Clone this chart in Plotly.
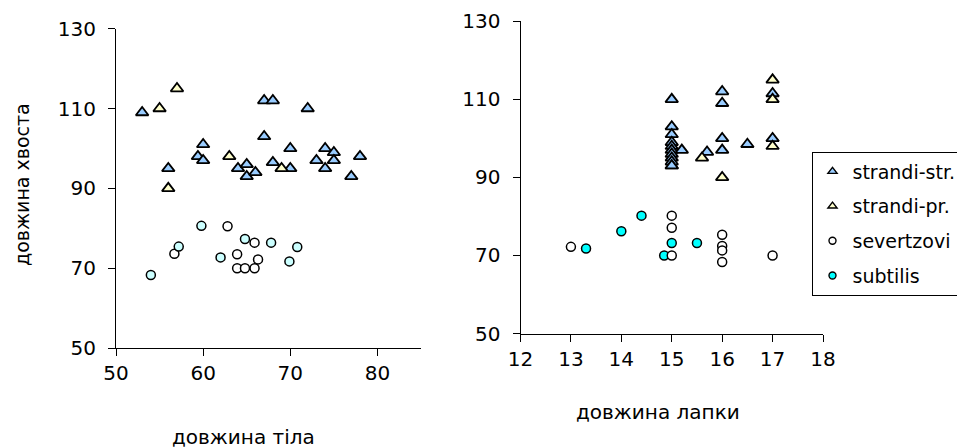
import plotly.graph_objects as go

# ---------------- data ----------------
species = ["strandi-str.", "strandi-pr.", "severtzovi", "subtilis"]

# left panel: body length (x) vs tail length (y)
str_body = [53, 56, 59.4, 60, 60, 64, 65, 65, 66, 67, 68, 67, 68, 70, 70, 72, 73, 74, 74, 75, 75, 77, 78]
str_tail_l = [109, 95, 98, 101, 97, 95, 96, 93, 94, 112, 112, 103, 96.5, 100, 95, 110, 97, 100, 95, 99, 97, 93, 98]
pr_body = [55, 57, 56, 63, 69]
pr_tail_l = [110, 115, 90, 98, 95]
sev_body = [56.7, 62.8, 63.9, 63.9, 64.8, 65.9, 65.9, 66.3]
sev_tail_l = [73.6, 80.5, 73.5, 70, 70, 70, 76.4, 72.2]
sub_body = [54, 57.2, 59.8, 62, 64.8, 67.8, 69.9, 70.8]
sub_tail_l = [68.3, 75.4, 80.6, 72.7, 77.3, 76.4, 71.7, 75.3]

# right panel: foot length (x) vs tail length (y)
str_foot = [15, 15, 15, 15, 15, 15, 15, 15, 15, 15, 15, 15.2, 15.7, 16, 16, 16, 16, 16.5, 17, 17]
str_tail_r = [110, 103, 101, 99, 98, 97, 96, 95, 94, 93, 93, 97, 96.5, 112, 109, 100, 97, 98.5, 111.5, 100]
pr_foot = [17, 17, 16, 17, 15.6]
pr_tail_r = [115, 110, 90, 98, 95]
sev_foot = [13, 15, 15, 15, 16, 16, 16, 16, 17]
sev_tail_r = [72.2, 80.2, 77.1, 70, 75.3, 72.4, 71.3, 68.3, 70]
sub_foot = [13.3, 14, 14.4, 14.85, 15, 15.5]
sub_tail_r = [71.8, 76.2, 80.2, 70, 73.2, 73.2]

left_xticks = [50, 60, 70, 80]
right_xticks = [12, 13, 14, 15, 16, 17, 18]
yticks = [50, 70, 90, 110, 130]

# ---------------- styles ----------------
C_STR = "#99CCFF"
C_PR = "#FFFFCC"
C_SEV = "#FFFFFF"
C_SUB_L = "#CCFFFF"
C_SUB_R = "#00FFFF"
FONT = "DejaVu Sans"
# page body has an 8px margin; figure is sized so that it fills the 965x448 window
OFF = 8
W, H = 965 - OFF, 448 - OFF

def px(sx):
    return (sx - OFF) / W

def py(sy):
    return (448 - sy) / H

def tri(color):
    return dict(symbol="triangle-up", size=11, color=color, line=dict(color="black", width=1.8))

def circ(color):
    return dict(symbol="circle", size=9, color=color, line=dict(color="black", width=1.5))

fig = go.Figure()

# left panel
fig.add_trace(go.Scatter(x=str_body, y=str_tail_l, mode="markers", marker=tri(C_STR), showlegend=False, xaxis="x", yaxis="y"))
fig.add_trace(go.Scatter(x=pr_body, y=pr_tail_l, mode="markers", marker=tri(C_PR), showlegend=False, xaxis="x", yaxis="y"))
fig.add_trace(go.Scatter(x=sev_body, y=sev_tail_l, mode="markers", marker=circ(C_SEV), showlegend=False, xaxis="x", yaxis="y"))
fig.add_trace(go.Scatter(x=sub_body, y=sub_tail_l, mode="markers", marker=circ(C_SUB_L), showlegend=False, xaxis="x", yaxis="y"))

# right panel
fig.add_trace(go.Scatter(x=str_foot, y=str_tail_r, mode="markers", marker=tri(C_STR), showlegend=False, xaxis="x2", yaxis="y2"))
fig.add_trace(go.Scatter(x=pr_foot, y=pr_tail_r, mode="markers", marker=tri(C_PR), showlegend=False, xaxis="x2", yaxis="y2"))
fig.add_trace(go.Scatter(x=sub_foot, y=sub_tail_r, mode="markers", marker=circ(C_SUB_R), showlegend=False, xaxis="x2", yaxis="y2"))
fig.add_trace(go.Scatter(x=sev_foot, y=sev_tail_r, mode="markers", marker=circ(C_SEV), showlegend=False, xaxis="x2", yaxis="y2"))

# legend entries
leg_markers = [
    dict(symbol="triangle-up", size=8, color=C_STR, line=dict(color="black", width=1.4)),
    dict(symbol="triangle-up", size=8, color=C_PR, line=dict(color="black", width=1.4)),
    dict(symbol="circle", size=7, color=C_SEV, line=dict(color="black", width=1.4)),
    dict(symbol="circle", size=7, color=C_SUB_R, line=dict(color="black", width=1.4)),
]
for i, (name, mk) in enumerate(zip(species, leg_markers)):
    fig.add_trace(go.Scatter(x=[None], y=[None], mode="markers", marker=mk, name=name,
                             legendgroup=f"g{i}", showlegend=True, xaxis="x2", yaxis="y2"))

axis_common = dict(showline=True, linecolor="black", linewidth=1, ticks="outside", ticklen=7,
                   tickcolor="black", tickwidth=1, showgrid=False, zeroline=False,
                   tickfont=dict(family=FONT, size=20, color="black"))

fig.update_layout(
    width=W, height=H,
    margin=dict(l=0, r=0, t=0, b=0, autoexpand=False),
    paper_bgcolor="white", plot_bgcolor="white",
    font=dict(family=FONT, size=20, color="black"),
    xaxis=dict(domain=[px(116), px(421)], range=[50, 85], tickvals=left_xticks, anchor="y", **axis_common),
    yaxis=dict(domain=[py(348), py(28.7)], range=[50, 130], tickvals=yticks, anchor="x",
               ticklabelstandoff=8, **axis_common),
    xaxis2=dict(domain=[px(520.5), px(823)], range=[12, 18], tickvals=right_xticks, anchor="y2", **axis_common),
    yaxis2=dict(domain=[py(333.5), py(21.3)], range=[50, 130], tickvals=yticks, anchor="x2",
                ticklabelstandoff=8, **axis_common),
    legend=dict(x=px(811.5), y=py(151.5), xanchor="left", yanchor="top",
                bordercolor="black", borderwidth=1, bgcolor="white",
                font=dict(family=FONT, size=19, color="black"),
                traceorder="grouped", tracegroupgap=7),
    annotations=[
        dict(text="довжина хвоста", x=px(22), y=py(185), xref="paper", yref="paper",
             textangle=-90, showarrow=False, xanchor="center", yanchor="middle",
             font=dict(family=FONT, size=19, color="black")),
        dict(text="довжина тіла", x=px(243), y=py(437), xref="paper", yref="paper",
             showarrow=False, xanchor="center", yanchor="middle",
             font=dict(family=FONT, size=20, color="black")),
        dict(text="довжина лапки", x=px(658), y=py(412), xref="paper", yref="paper",
             showarrow=False, xanchor="center", yanchor="middle",
             font=dict(family=FONT, size=20, color="black")),
    ],
)

fig.write_html("out.html")
